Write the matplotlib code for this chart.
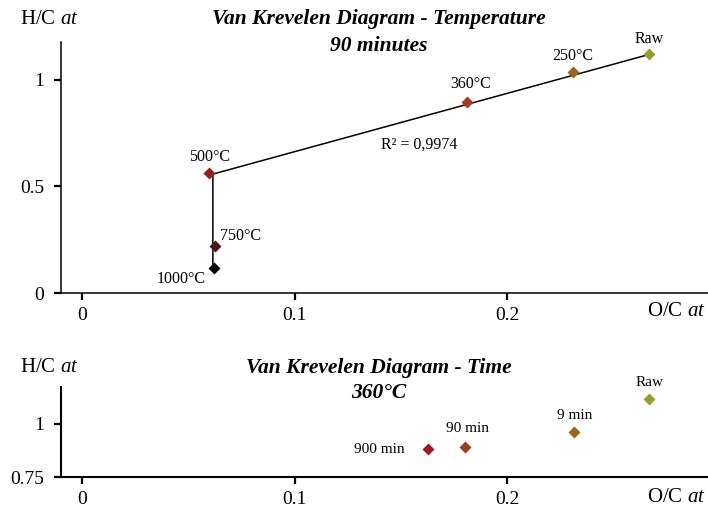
import matplotlib
matplotlib.use("Agg")
import matplotlib.pyplot as plt

plt.rcParams['font.family'] = ['Liberation Serif', 'DejaVu Serif']
plt.rcParams['mathtext.fontset'] = 'custom'
plt.rcParams['mathtext.rm'] = 'Liberation Serif'
plt.rcParams['mathtext.it'] = 'Liberation Serif:italic'

# temperature series (90 minutes)
temp_labels = ["Raw", "250°C", "360°C", "500°C", "750°C", "1000°C"]
temp_oc = [0.267, 0.231, 0.181, 0.0595, 0.0626, 0.0618]
temp_hc = [1.12, 1.036, 0.898, 0.562, 0.221, 0.116]
temp_colors = ["#9a9a32", "#9a6522", "#a33a22", "#9b1b1e", "#4a1518", "#000000"]

# trend path drawn in the original
trend_oc = [0.0615, 0.0615, 0.267]
trend_hc = [0.116, 0.558, 1.12]

# time series (360°C)
time_labels = ["Raw", "9 min", "90 min", "900 min"]
time_oc = [0.267, 0.2317, 0.1803, 0.1629]
time_hc = [1.115, 0.961, 0.891, 0.880]
time_colors = ["#9a9a32", "#9a6522", "#a33a22", "#9b1b1e"]

x_ticks = [0, 0.1, 0.2]
x_ticklabels = ["0", "0.1", "0.2"]
top_yticks = [0, 0.5, 1]
top_yticklabels = ["0", "0.5", "1"]
bot_yticks = [0.75, 1]
bot_yticklabels = ["0.75", "1"]

temp_offsets = [(0, 11), (0, 12), (3, 13), (1, 12), (18, 7), (-23, -8)]
time_offsets = [(0, 12), (0, 12), (2, 13), (-35, 0)]

fig = plt.figure(figsize=(7.08, 5.08), dpi=100)
ax1 = fig.add_axes([61 / 708, 1 - 293 / 508, 647 / 708, 251 / 508])
ax2 = fig.add_axes([61 / 708, 1 - 477 / 508, 647 / 708, 90 / 508])


def style_axes(ax, yticks, yticklabels, lw):
    for side in ["top", "right"]:
        ax.spines[side].set_visible(False)
    for side in ["left", "bottom"]:
        ax.spines[side].set_linewidth(lw)
    ax.set_xlim(-0.01, 0.2946)
    ax.set_xticks(x_ticks)
    ax.set_xticklabels(x_ticklabels)
    ax.set_yticks(yticks)
    ax.set_yticklabels(yticklabels)
    ax.tick_params(axis="both", direction="out", length=5, width=1.6, labelsize=14, pad=7)
    ax.tick_params(axis="x", pad=5)


# top chart
ax1.plot(trend_oc, trend_hc, color="black", lw=1.1, zorder=1)
for x, y, c, lab, off in zip(temp_oc, temp_hc, temp_colors, temp_labels, temp_offsets):
    ax1.plot(x, y, marker="D", ms=6.5, color=c, mec="none", ls="none", zorder=3)
    ax1.annotate(lab, (x, y), xytext=off, textcoords="offset points",
                 ha="center", va="center", fontsize=11.5)
ax1.text(0.1586, 0.695, "R² = 0,9974", ha="center", va="center", fontsize=11.5)
ax1.set_ylim(0, 1.178)
style_axes(ax1, top_yticks, top_yticklabels, 1.1)

# bottom chart
for x, y, c, lab, off in zip(time_oc, time_hc, time_colors, time_labels, time_offsets):
    ax2.plot(x, y, marker="D", ms=6.5, color=c, mec="none", ls="none", zorder=3)
    ax2.annotate(lab, (x, y), xytext=off, textcoords="offset points",
                 ha="center", va="center", fontsize=11)
ax2.set_ylim(0.75, 1.172)
style_axes(ax2, bot_yticks, bot_yticklabels, 1.5)

# titles and axis names
title_kw = dict(ha="center", va="center", fontsize=15.5, fontweight="bold", style="italic")
fig.text(379 / 708, 1 - 19 / 508, "Van Krevelen Diagram - Temperature", **title_kw)
fig.text(379 / 708, 1 - 46 / 508, "90 minutes", **title_kw)
fig.text(379 / 708, 1 - 368 / 508, "Van Krevelen Diagram - Time", **title_kw)
fig.text(379 / 708, 1 - 393 / 508, "360°C", **title_kw)

name_kw = dict(va="center", fontsize=15)
fig.text(20 / 708, 1 - 20 / 508, "H/C $\\mathit{at}$", ha="left", **name_kw)
fig.text(20 / 708, 1 - 367 / 508, "H/C $\\mathit{at}$", ha="left", **name_kw)
fig.text(706 / 708, 1 - 312 / 508, "O/C $\\mathit{at}$", ha="right", **name_kw)
fig.text(706 / 708, 1 - 498 / 508, "O/C $\\mathit{at}$", ha="right", **name_kw)

fig.savefig("out.png", dpi=100)
